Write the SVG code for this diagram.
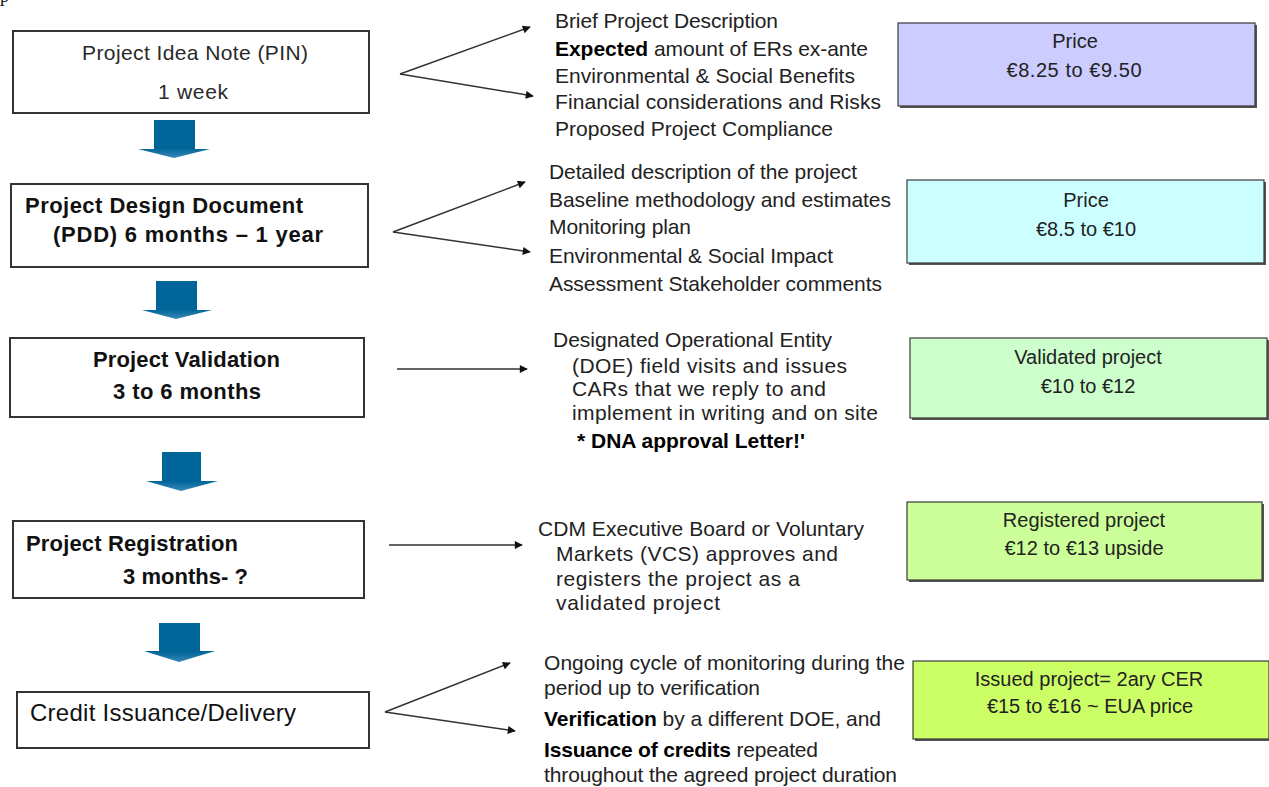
<svg xmlns="http://www.w3.org/2000/svg" width="1269" height="787" viewBox="0 0 1269 787">
<style>
.bx{fill:#fff;stroke:#333;stroke-width:2}
.pr{stroke:#3a3a3a;stroke-width:1.2}
.sh{fill:#555}
.t{font-family:"Liberation Sans",Arial,sans-serif;fill:#111}
.lt{font-size:21px}
.lb{font-size:22px;font-weight:bold}
.m{font-size:21px;fill:#222}
.p{font-size:20px;fill:#222;text-anchor:middle}
.b{font-weight:bold;fill:#000}
.con{stroke:#333;stroke-width:1.5;fill:none;marker-end:url(#ah)}
.ba{fill:url(#bg)}
</style>
<defs>
<marker id="ah" viewBox="0 0 10 10" refX="9" refY="5" markerWidth="9" markerHeight="8" markerUnits="userSpaceOnUse" orient="auto">
<path d="M0,0 L10,5 L0,10 z" fill="#111"/>
</marker>
<linearGradient id="bg" x1="0" y1="0" x2="0" y2="1">
<stop offset="0.75" stop-color="#006699"/>
<stop offset="1" stop-color="#3a88b8"/>
</linearGradient>
</defs>

<text class="t" x="0" y="2" style="font-family:'Liberation Serif',serif;font-size:18px">p</text>

<g id="pin">
<rect class="bx" x="13" y="31" width="356" height="82"/>
<text class="t lt" x="82" y="60" textLength="226" style="fill:#2a2a2a">Project Idea Note (PIN)</text>
<text class="t lt" x="158" y="99" textLength="70" style="fill:#2a2a2a">1 week</text>
</g>
<g id="pdd">
<rect class="bx" x="11" y="184" width="357" height="83"/>
<text class="t lb" x="25" y="213" textLength="278">Project Design Document</text>
<text class="t lb" x="53" y="242" textLength="270">(PDD) 6 months – 1 year</text>
</g>
<g id="validation">
<rect class="bx" x="10" y="338" width="354" height="79"/>
<text class="t lb" x="93" y="367" textLength="187">Project Validation</text>
<text class="t lb" x="113" y="399" textLength="148">3 to 6 months</text>
</g>
<g id="registration">
<rect class="bx" x="13" y="521" width="351" height="77"/>
<text class="t lb" x="26" y="551" textLength="212">Project Registration</text>
<text class="t lb" x="123" y="584" textLength="125">3 months- ?</text>
</g>
<g id="credit">
<rect class="bx" x="17" y="692" width="352" height="56"/>
<text class="t" x="30" y="721" textLength="266" style="font-size:24px">Credit Issuance/Delivery</text>
</g>

<g id="flow-arrows">
<polygon class="ba" points="154,120 195,120 195,149 210,149 174,158 138,149 154,149"/>
<polygon class="ba" points="156,281 197,281 197,310 212,310 176,319 142,310 156,310"/>
<polygon class="ba" points="162,452 201,452 201,481 218,481 181,491 146,481 162,481"/>
<polygon class="ba" points="159,623 200,623 200,651 215,651 179,662 144,651 159,651"/>
</g>

<g id="connectors">
<line class="con" x1="400" y1="74" x2="530" y2="27"/>
<line class="con" x1="400" y1="74" x2="533" y2="96"/>
<line class="con" x1="393" y1="232" x2="525" y2="182"/>
<line class="con" x1="393" y1="232" x2="530" y2="252"/>
<line class="con" x1="397" y1="369" x2="527" y2="369"/>
<line class="con" x1="389" y1="545" x2="522" y2="545"/>
<line class="con" x1="385" y1="712" x2="510" y2="663"/>
<line class="con" x1="385" y1="712" x2="515" y2="731"/>
</g>

<g id="pin-details">
<text class="t m" x="555" y="28" textLength="223">Brief Project Description</text>
<text class="t m" x="555" y="56" textLength="313"><tspan class="b">Expected</tspan> amount of ERs ex-ante</text>
<text class="t m" x="555" y="83" textLength="300">Environmental &amp; Social Benefits</text>
<text class="t m" x="555" y="109" textLength="326">Financial considerations and Risks</text>
<text class="t m" x="555" y="136" textLength="278">Proposed Project Compliance</text>
</g>
<g id="pdd-details">
<text class="t m" x="549" y="179" textLength="308">Detailed description of the project</text>
<text class="t m" x="549" y="207" textLength="342">Baseline methodology and estimates</text>
<text class="t m" x="549" y="234" textLength="142">Monitoring plan</text>
<text class="t m" x="549" y="263" textLength="284">Environmental &amp; Social Impact</text>
<text class="t m" x="549" y="291" textLength="333">Assessment Stakeholder comments</text>
</g>
<g id="validation-details">
<text class="t m" x="553" y="347" textLength="279">Designated Operational Entity</text>
<text class="t m" x="572" y="373" textLength="275">(DOE) field visits and issues</text>
<text class="t m" x="572" y="396" textLength="254">CARs that we reply to and</text>
<text class="t m" x="572" y="420" textLength="306">implement in writing and on site</text>
<text class="t m b" x="577" y="448" textLength="228">* DNA approval Letter!'</text>
</g>
<g id="registration-details">
<text class="t m" x="538" y="536" textLength="326">CDM Executive Board or Voluntary</text>
<text class="t m" x="556" y="561" textLength="282">Markets (VCS) approves and</text>
<text class="t m" x="556" y="586" textLength="244">registers the project as a</text>
<text class="t m" x="556" y="610" textLength="164">validated project</text>
</g>
<g id="credit-details">
<text class="t m" x="544" y="670" textLength="361">Ongoing cycle of monitoring during the</text>
<text class="t m" x="544" y="695" textLength="216">period up to verification</text>
<text class="t m" x="544" y="726" textLength="337"><tspan class="b">Verification</tspan> by a different DOE, and</text>
<text class="t m" x="544" y="757" textLength="274"><tspan class="b">Issuance of credits</tspan> repeated</text>
<text class="t m" x="544" y="782" textLength="353">throughout the agreed project duration</text>
</g>

<g id="price-pin">
<rect class="sh" x="900" y="25" width="357" height="83"/>
<rect class="pr" x="898" y="23" width="357" height="83" fill="#ccccff"/>
<text class="t p" x="1075" y="48">Price</text>
<text class="t p" x="1074" y="77" textLength="135">€8.25 to €9.50</text>
</g>
<g id="price-pdd">
<rect class="sh" x="909" y="182" width="357" height="83"/>
<rect class="pr" x="907" y="180" width="357" height="83" fill="#ccffff"/>
<text class="t p" x="1086" y="207">Price</text>
<text class="t p" x="1086" y="236">€8.5 to €10</text>
</g>
<g id="price-validated">
<rect class="sh" x="912" y="340" width="357" height="80"/>
<rect class="pr" x="910" y="338" width="357" height="80" fill="#ccffcc"/>
<text class="t p" x="1088" y="364">Validated project</text>
<text class="t p" x="1088" y="393">€10 to €12</text>
</g>
<g id="price-registered">
<rect class="sh" x="909" y="504" width="355" height="78"/>
<rect class="pr" x="907" y="502" width="355" height="78" fill="#ccff99"/>
<text class="t p" x="1084" y="527">Registered project</text>
<text class="t p" x="1084" y="555">€12 to €13 upside</text>
</g>
<g id="price-issued">
<rect class="sh" x="915" y="663" width="356" height="78"/>
<rect class="pr" x="913" y="661" width="356" height="78" fill="#ccff66"/>
<text class="t p" x="1089" y="686">Issued project= 2ary CER</text>
<text class="t p" x="1090" y="713">€15 to €16 ~ EUA price</text>
</g>
</svg>
